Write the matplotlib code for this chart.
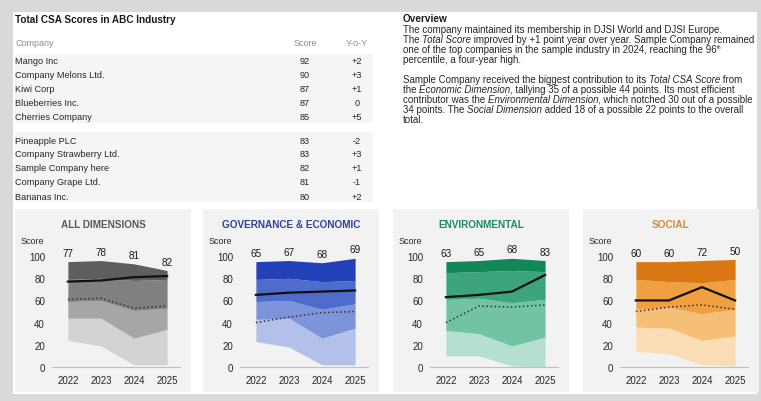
import matplotlib
matplotlib.use('Agg')
import matplotlib.pyplot as plt
from matplotlib.patches import Rectangle

plt.rcParams['font.family'] = ['Liberation Sans', 'DejaVu Sans']

W, H = 761, 402

# table data
companies = ['Mango Inc', 'Company Melons Ltd.', 'Kiwi Corp', 'Blueberries Inc.', 'Cherries Company',
             'Pineapple PLC', 'Company Strawberry Ltd.', 'Sample Company here', 'Company Grape Ltd.',
             'Bananas Inc.']
scores = [92, 90, 87, 87, 85, 83, 83, 82, 81, 80]
yoy = ['+2', '+3', '+1', '0', '+5', '-2', '+3', '+1', '-1', '+2']

years = [2022, 2023, 2024, 2025]

# dimension charts: industry min / p25 / p50 / p75 / max, company score, industry average
dim_names = ['ALL DIMENSIONS', 'GOVERNANCE & ECONOMIC', 'ENVIRONMENTAL', 'SOCIAL']
dim_min = [[24, 19, 2, 2], [23, 18, 2, 2], [10, 10, 1, 0], [14, 12, 2, 1]]
dim_p25 = [[44, 44, 26, 34], [43, 44, 26, 35], [33, 30, 19, 27], [36, 35, 24, 28]]
dim_p50 = [[59, 60, 51, 53], [59, 60, 52, 57], [61, 62, 58, 61], [52, 54, 48, 52]]
dim_p75 = [[79, 80, 78, 79], [79, 80, 77, 78], [85, 86, 87, 86], [79, 77, 76, 79]]
dim_max = [[95, 96, 93, 87], [95, 96, 94, 98], [95, 96, 98, 96], [95, 95, 96, 97]]
dim_company = [[77, 78, 81, 82], [65, 67, 68, 69], [63, 65, 68, 83], [60, 60, 72, 60]]
dim_average = [[61, 62, 53, 55], [40, 45, 49, 50], [40, 55, 54, 56], [50, 54, 56, 52]]
dim_labels = [['77', '78', '81', '82'], ['65', '67', '68', '69'], ['63', '65', '68', '83'],
              ['60', '60', '72', '50']]

title_colors = ['#595959', '#2f3f9e', '#1e8c5e', '#d88a2e']
band_colors = [['#d3d3d3', '#a6a6a6', '#808080', '#5e5e5e'],
               ['#b3c0ea', '#7d93da', '#4f6bcc', '#2240b8'],
               ['#b5e0cf', '#72c3a4', '#3ca57d', '#12875a'],
               ['#fadcb5', '#f6bf78', '#f0a040', '#d97812']]

fig = plt.figure(figsize=(W / 100, H / 100), dpi=100)
fig.patch.set_facecolor('#d9d9d9')


def px_rect(x0, y0, x1, y1, color):
    fig.add_artist(Rectangle((x0 / W, 1 - y1 / H), (x1 - x0) / W, (y1 - y0) / H,
                             transform=fig.transFigure, facecolor=color,
                             edgecolor='none', zorder=-10))


def ptext(x, y, s, **kw):
    return fig.text(x / W, 1 - y / H, s, **kw)


px_rect(13, 13, 757, 395, 'white')

# ---- table ----
ptext(15, 20, 'Total CSA Scores in ABC Industry', fontsize=7.2, fontweight='bold',
      color='#1a1a1a', va='center')
ptext(15, 43, 'Company', fontsize=6.5, color='#8c8c8c', va='center')
ptext(305, 43, 'Score', fontsize=6.5, color='#8c8c8c', va='center', ha='center')
ptext(357, 43, 'Y-o-Y', fontsize=6.5, color='#8c8c8c', va='center', ha='center')
px_rect(15, 55, 373, 124, '#f5f5f5')
px_rect(15, 133, 373, 203, '#f5f5f5')
for i in range(len(companies)):
    y = 62 + i * 14 + (9 if i >= 5 else 0)
    ptext(15, y, companies[i], fontsize=6.6, color='#262626', va='center')
    ptext(305, y, str(scores[i]), fontsize=6.6, color='#262626', va='center', ha='center')
    ptext(357, y, yoy[i], fontsize=6.6, color='#262626', va='center', ha='center')

# ---- overview text ----
overview = [
    [('The company maintained its membership in DJSI World and DJSI Europe.', 'normal')],
    [('The ', 'normal'), ('Total Score', 'italic'),
     (' improved by +1 point year over year. Sample Company remained', 'normal')],
    [('one of the top companies in the sample industry in 2024, reaching the 96', 'normal'),
     ('th', 'sup')],
    [('percentile, a four-year high.', 'normal')],
    [('Sample Company received the biggest contribution to its ', 'normal'),
     ('Total CSA Score', 'italic'), (' from', 'normal')],
    [('the ', 'normal'), ('Economic Dimension', 'italic'),
     (', tallying 35 of a possible 44 points. Its most efficient', 'normal')],
    [('contributor was the ', 'normal'), ('Environmental Dimension', 'italic'),
     (', which notched 30 out of a possible', 'normal')],
    [('34 points. The ', 'normal'), ('Social Dimension', 'italic'),
     (' added 18 of a possible 22 points to the overall', 'normal')],
    [('total.', 'normal')],
]
line_y = [30, 40, 50, 60, 80, 90, 100, 110, 120]
ptext(403, 19, 'Overview', fontsize=7.2, fontweight='bold', color='#1a1a1a', va='center')
renderer = fig.canvas.get_renderer()
for n, line in enumerate(overview):
    y = line_y[n]
    x = 403
    for s, style in line:
        if style == 'sup':
            t = ptext(x + 0.5, y - 2.5, s, fontsize=4, color='#262626', va='center')
        else:
            t = ptext(x, y, s, fontsize=7.0, color='#262626', va='center', style=style)
        x += t.get_window_extent(renderer).width
        if style == 'italic':
            x -= 0.5

# ---- dimension panels ----
panel_left = [15, 203, 393, 583]
for k in range(4):
    off = panel_left[k] - 15
    px_rect(panel_left[k], 210, panel_left[k] + 176, 393, '#f2f2f2')
    ptext(panel_left[k] + 88, 225, dim_names[k], fontsize=7.2, fontweight='bold',
          color=title_colors[k], va='center', ha='center')
    ptext(32 + off, 242, 'Score', fontsize=6.5, color='#262626', va='center', ha='center')

    ax = fig.add_axes([(52 + off) / W, 1 - 368 / H, 128 / W, 122 / H])
    ax.set_facecolor('none')
    bounds = [dim_min[k], dim_p25[k], dim_p50[k], dim_p75[k], dim_max[k]]
    for b in range(4):
        ax.fill_between(years, bounds[b], bounds[b + 1], color=band_colors[k][b], lw=0)
    ax.plot(years, dim_company[k], color='#111111', lw=1.6)
    ax.plot(years, dim_average[k], color='#333333', lw=1.1, ls=':')
    for j in range(4):
        ax.text(years[j], dim_max[k][j] + 8, dim_labels[k][j], fontsize=7.2, color='#1a1a1a',
                ha='center', va='center', clip_on=False)
    ax.set_xlim(2021.52, 2025.39)
    ax.set_ylim(0, 110)
    ax.set_yticks([0, 20, 40, 60, 80, 100])
    ax.set_xticks(years)
    ax.tick_params(axis='y', length=0, pad=5, labelsize=7, labelcolor='#262626')
    ax.tick_params(axis='x', length=0, pad=6, labelsize=7, labelcolor='#262626')
    for side in ['top', 'right', 'left']:
        ax.spines[side].set_visible(False)
    ax.spines['bottom'].set_color('#bfbfbf')
    ax.spines['bottom'].set_linewidth(0.8)

fig.savefig('out.png', dpi=100)
